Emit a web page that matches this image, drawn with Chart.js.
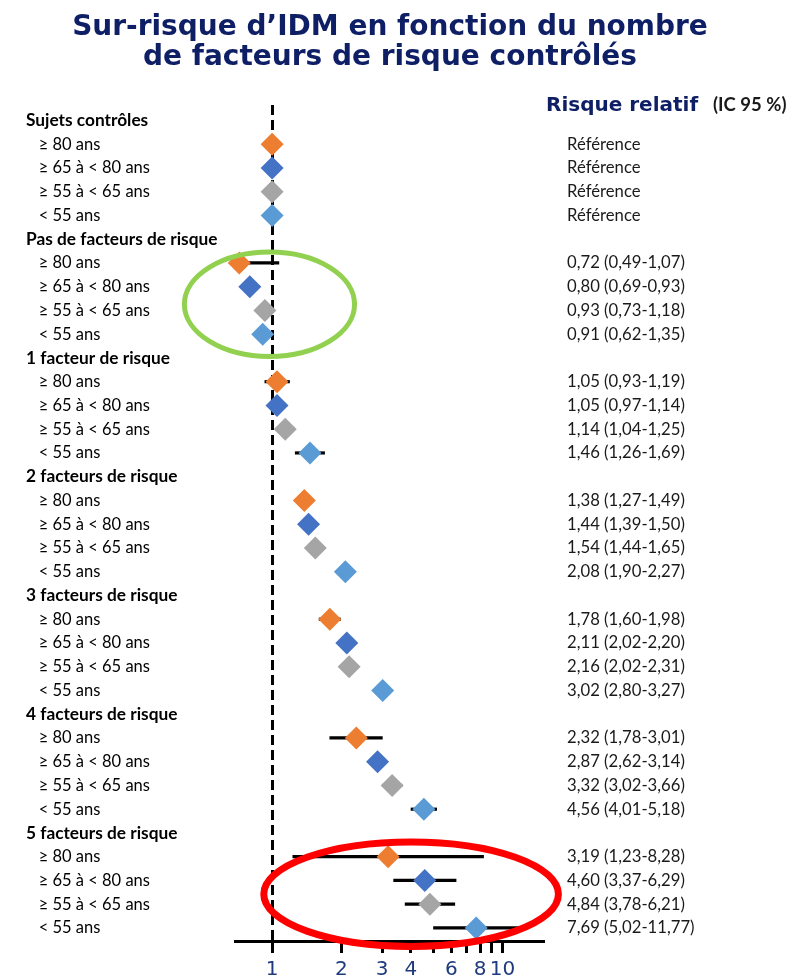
<!DOCTYPE html>
<html>
<head>
<meta charset="utf-8">
<script src="https://cdn.jsdelivr.net/npm/chart.js@4.4.1/dist/chart.umd.min.js"></script>
<style>
  html, body { margin: 0; padding: 0; background: #fff; }
  #wrap { width: 803px; height: 977px; position: relative; }
</style>
</head>
<body>
<div id="wrap"><canvas id="c" width="803" height="977"></canvas></div>
<script>
// Groups (number of controlled risk factors) and age bands
const groupLabels = ['Sujets contrôles', 'Pas de facteurs de risque', '1 facteur de risque',
  '2 facteurs de risque', '3 facteurs de risque', '4 facteurs de risque', '5 facteurs de risque'];
const ageLabels = ['≥ 80 ans', '≥ 65 à < 80 ans', '≥ 55 à < 65 ans', '< 55 ans'];
const ageColors = ['#ED7D31', '#4472C4', '#A5A5A5', '#5B9BD5'];

// Relative risk and 95 % CI per group, one array per age band (null CI = reference)
const rr80  = [1, 0.72, 1.05, 1.38, 1.78, 2.32, 3.19];
const ci80  = [null, [0.49, 1.07], [0.93, 1.19], [1.27, 1.49], [1.60, 1.98], [1.78, 3.01], [1.23, 8.28]];
const rr65  = [1, 0.80, 1.05, 1.44, 2.11, 2.87, 4.60];
const ci65  = [null, [0.69, 0.93], [0.97, 1.14], [1.39, 1.50], [2.02, 2.20], [2.62, 3.14], [3.37, 6.29]];
const rr55  = [1, 0.93, 1.14, 1.54, 2.16, 3.32, 4.84];
const ci55  = [null, [0.73, 1.18], [1.04, 1.25], [1.44, 1.65], [2.02, 2.31], [3.02, 3.66], [3.78, 6.21]];
const rrU55 = [1, 0.91, 1.46, 2.08, 3.02, 4.56, 7.69];
const ciU55 = [null, [0.62, 1.35], [1.26, 1.69], [1.90, 2.27], [2.80, 3.27], [4.01, 5.18], [5.02, 11.77]];

// CI whiskers left out of the plot (group index, age index); values still listed on the right
const ciNotPlotted = [[1, 1], [1, 2], [1, 3]];

// Log axis ticks
const xTickValues = [1, 2, 3, 4, 5, 6, 7, 8, 9, 10];
const xTickLabels = ['1', '2', '3', '4', '', '6', '', '8', '', '10'];

const titleLines = ['Sur-risque d’IDM en fonction du nombre', 'de facteurs de risque contrôlés'];

// Highlight ellipses, bounds given in axis units (x: relative risk, y: row)
const highlights = [
  { xMin: 0.416, xMax: 2.28, yMin: 5.54, yMax: 9.94, color: '#92D050', width: 5 },
  { xMin: 0.92, xMax: 17.5, yMin: 30.38, yMax: 34.78, color: '#FF0000', width: 7 }
];

const rrByAge = [rr80, rr65, rr55, rrU55];
const ciByAge = [ci80, ci65, ci55, ciU55];
const fmt = v => v.toFixed(2).replace('.', ',');

// One header row per group followed by one row per age band
const rowLabels = [], rowIsHeader = [], rightLabels = [];
groupLabels.forEach((g, gi) => {
  rowLabels.push(g); rowIsHeader.push(true); rightLabels.push('');
  ageLabels.forEach((a, ai) => {
    rowLabels.push('   ' + a); rowIsHeader.push(false);
    const ci = ciByAge[ai][gi];
    rightLabels.push(ci ? `${fmt(rrByAge[ai][gi])} (${fmt(ci[0])}-${fmt(ci[1])})` : 'Référence');
  });
});
const rowOf = (gi, ai) => gi * 5 + 1 + ai;

const pointSets = ageLabels.map((a, ai) => ({
  type: 'scatter',
  label: a,
  data: groupLabels.map((g, gi) => ({ x: rrByAge[ai][gi], y: rowOf(gi, ai) })),
  pointStyle: 'rectRot',
  pointRadius: 11.5,
  pointHoverRadius: 11.5,
  backgroundColor: ageColors[ai],
  borderColor: ageColors[ai],
  borderWidth: 0,
  clip: false,
  order: 0
}));

const ciData = [];
ageLabels.forEach((a, ai) => groupLabels.forEach((g, gi) => {
  const ci = ciByAge[ai][gi];
  const skip = ciNotPlotted.some(([G, A]) => G === gi && A === ai);
  if (ci && !skip) ciData.push({ x: [ci[0], ci[1]], y: rowOf(gi, ai) });
}));

const ciSet = {
  type: 'bar',
  label: 'IC 95 %',
  indexAxis: 'y',
  data: ciData,
  backgroundColor: '#000',
  borderWidth: 0,
  barThickness: 2.5,
  order: 5
};

const rowTicks = s => { s.ticks = rowLabels.map((_, i) => ({ value: i })); };

const decorations = {
  id: 'decorations',
  afterDraw(chart) {
    const ctx = chart.ctx;
    const xs = chart.scales.x, ys = chart.scales.y;
    // title
    ctx.save();
    ctx.fillStyle = '#0E1F66';
    ctx.font = 'bold 28px "DejaVu Sans"';
    ctx.textAlign = 'center';
    ctx.textBaseline = 'alphabetic';
    ctx.fillText(titleLines[0], 390, 35);
    ctx.fillText(titleLines[1], 390, 65);
    // column header
    ctx.textAlign = 'left';
    ctx.font = 'bold 20px "DejaVu Sans"';
    ctx.fillText('Risque relatif', 546, 111);
    ctx.fillStyle = '#1a1a1a';
    ctx.font = 'bold 18.5px Lato';
    ctx.fillText('(IC 95 %)', 713, 111);
    ctx.restore();
    // highlight ellipses
    highlights.forEach(h => {
      const x0 = xs.getPixelForValue(h.xMin), x1 = xs.getPixelForValue(h.xMax);
      const y0 = ys.getPixelForValue(h.yMin), y1 = ys.getPixelForValue(h.yMax);
      ctx.save();
      ctx.beginPath();
      ctx.ellipse((x0 + x1) / 2, (y0 + y1) / 2, Math.abs(x1 - x0) / 2, Math.abs(y1 - y0) / 2, 0, 0, Math.PI * 2);
      ctx.lineWidth = h.width;
      ctx.strokeStyle = h.color;
      ctx.stroke();
      ctx.restore();
    });
  }
};

new Chart(document.getElementById('c'), {
  type: 'scatter',
  data: { datasets: [...pointSets, ciSet] },
  options: {
    responsive: false,
    animation: false,
    layout: { padding: { left: 26, right: 0, top: 105, bottom: 0 } },
    plugins: { legend: { display: false }, tooltip: { enabled: false }, title: { display: false } },
    scales: {
      x: {
        type: 'logarithmic',
        position: 'bottom',
        min: 0.69,
        max: 15,
        offset: false,
        afterBuildTicks: s => { s.ticks = xTickValues.map(v => ({ value: v })); },
        afterFit: s => { s.height = 36; },
        grid: {
          offset: false,
          drawOnChartArea: true,
          color: c => (c.tick && c.tick.value === 1) ? '#000' : 'rgba(0,0,0,0)',
          lineWidth: 3,
          tickColor: '#000',
          tickLength: 12,
          tickWidth: 3
        },
        border: { display: true, color: '#000', width: 3, dash: [10, 5] },
        ticks: {
          autoSkip: false, maxRotation: 0, padding: 5,
          color: '#1F3A7D',
          font: { family: '"DejaVu Sans"', size: 20 },
          callback: (v, i) => xTickLabels[i]
        }
      },
      y: {
        type: 'linear',
        position: 'left',
        reverse: true,
        offset: false,
        min: -0.65,
        max: 34.55,
        afterBuildTicks: rowTicks,
        afterFit: s => { s.width = 209; },
        grid: { display: false, drawTicks: false, offset: false },
        border: { display: false },
        ticks: {
          autoSkip: false, crossAlign: 'far', padding: 0,
          color: '#000',
          font: c => ({ family: 'Lato', size: rowIsHeader[c.index] ? 17.3 : 16.5, weight: rowIsHeader[c.index] ? 'bold' : 'normal' }),
          callback: (v, i) => rowLabels[i]
        }
      },
      y2: {
        type: 'linear',
        position: 'right',
        reverse: true,
        offset: false,
        min: -0.65,
        max: 34.55,
        afterBuildTicks: rowTicks,
        afterFit: s => { s.width = 260; },
        grid: { display: false, drawTicks: false },
        border: { display: false },
        ticks: {
          autoSkip: false, crossAlign: 'near', padding: 24,
          color: '#1a1a1a',
          font: { family: 'Lato', size: 16.7 },
          callback: (v, i) => rightLabels[i]
        }
      }
    }
  },
  plugins: [decorations]
});
</script>
</body>
</html>
